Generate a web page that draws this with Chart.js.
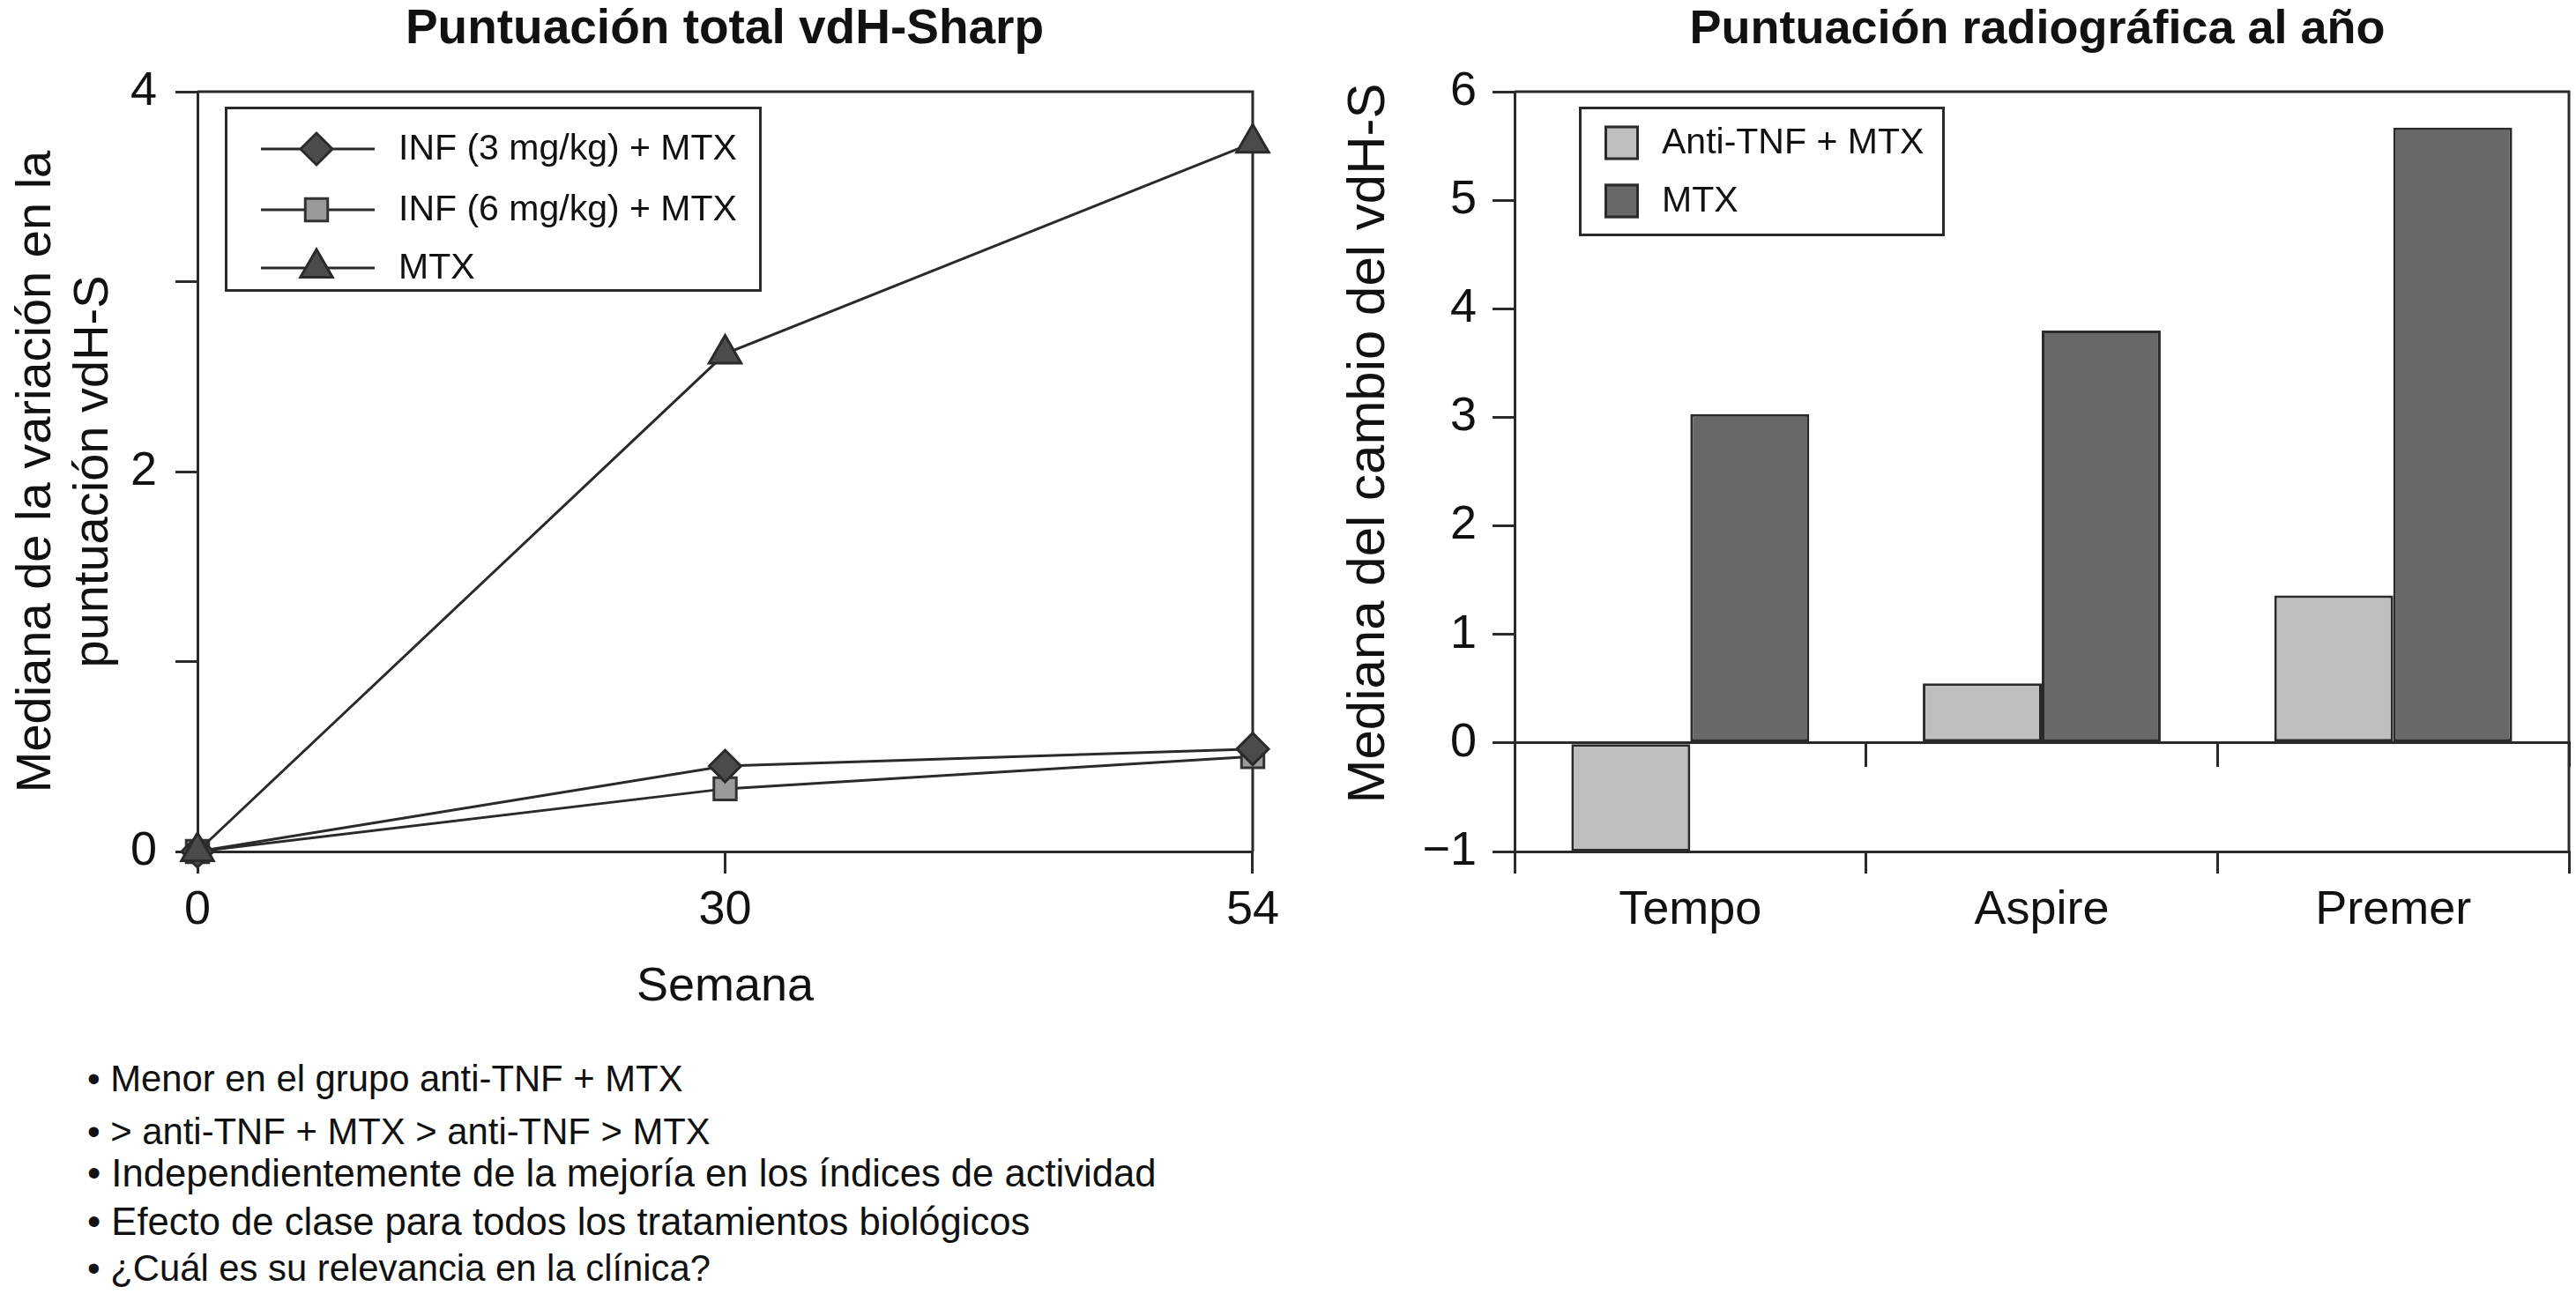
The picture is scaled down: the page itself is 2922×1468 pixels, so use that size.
<!DOCTYPE html>
<html><head><meta charset="utf-8">
<script src="https://cdn.jsdelivr.net/npm/chart.js@4.4.0/dist/chart.umd.min.js"></script>
<style>
html,body{margin:0;padding:0;background:#fff;}
body{width:2922px;height:1468px;position:relative;overflow:hidden;font-family:"Liberation Sans",Arial,sans-serif;color:#111;}
.t{position:absolute;font-weight:bold;line-height:54px;text-align:center;white-space:nowrap;top:3px;}
.b{position:absolute;left:99px;line-height:41px;white-space:nowrap;}
canvas{position:absolute;left:0;top:0;}
.w{position:absolute;top:0;width:1461px;height:1180px;}
</style></head><body>
<div class="t" id="t1" style="left:0;width:1644px;font-size:55px;"></div>
<div class="t" id="t2" style="left:1700px;width:1222px;font-size:54px;"></div>
<div class="w" style="left:0;"><canvas id="c1" width="1461" height="1180"></canvas></div>
<div class="w" style="left:1461px;"><canvas id="c2" width="1461" height="1180"></canvas></div>
<div id="bul"></div>
<script>
// ---------- DATA ----------
const leftTitle = 'Puntuación total vdH-Sharp';
const rightTitle = 'Puntuación radiográfica al año';
const weeks = ['0', '30', '54'];
const inf3Mtx = [0, 0.45, 0.54];
const inf6Mtx = [0, 0.33, 0.50];
const mtxLine = [0, 2.62, 3.73];
const lineLabels = ['INF (3 mg/kg) + MTX', 'INF (6 mg/kg) + MTX', 'MTX'];
const leftYTickValues = [0, 1, 2, 3, 4];
const leftYLabeled = [0, 2, 4];
const leftYTitle = ['Mediana de la variación en la', 'puntuación vdH-S'];
const leftXTitle = 'Semana';

const studies = ['Tempo', 'Aspire', 'Premer'];
const antiTnfMtx = [-1.0, 0.55, 1.36];
const mtxBar = [3.03, 3.80, 5.67];
const barLabels = ['Anti-TNF + MTX', 'MTX'];
const rightYTitle = 'Mediana del cambio del vdH-S';

const bullets = [
  'Menor en el grupo anti-TNF + MTX',
  '> anti-TNF + MTX > anti-TNF > MTX',
  'Independientemente de la mejoría en los índices de actividad',
  'Efecto de clase para todos los tratamientos biológicos',
  '¿Cuál es su relevancia en la clínica?'
];

// ---------- LAYOUT / STYLE ----------
const bulletTops = [1203, 1263, 1311, 1366, 1418];
const bulletSizes = [41.8, 41.8, 43.6, 43.6, 41.8];

document.getElementById('t1').textContent = leftTitle;
document.getElementById('t2').textContent = rightTitle;
const bul = document.getElementById('bul');
bullets.forEach((s, i) => {
  const d = document.createElement('div');
  d.className = 'b';
  d.style.top = bulletTops[i] + 'px';
  d.style.fontSize = bulletSizes[i] + 'px';
  d.textContent = '\u2022 ' + s;
  bul.appendChild(d);
});

const INK = '#2a2a2a';
const FONT = '"Liberation Sans", Arial, Helvetica, sans-serif';
Chart.defaults.font.family = FONT;
Chart.defaults.color = '#111';

function drawMarker(ctx, style, x, y, r, fill, stroke) {
  ctx.save();
  ctx.fillStyle = fill; ctx.strokeStyle = stroke; ctx.lineWidth = 3;
  if (Chart.helpers && Chart.helpers.drawPoint) {
    Chart.helpers.drawPoint(ctx, {pointStyle: style, radius: r, rotation: 0, borderWidth: 3}, x, y);
  } else {
    ctx.beginPath();
    if (style === 'rectRot') { ctx.moveTo(x, y - r); ctx.lineTo(x + r, y); ctx.lineTo(x, y + r); ctx.lineTo(x - r, y); ctx.closePath(); }
    else if (style === 'rect') { const s = r * Math.SQRT1_2; ctx.rect(x - s, y - s, 2 * s, 2 * s); }
    else { ctx.moveTo(x, y - r); ctx.lineTo(x + r * 0.866, y + r / 2); ctx.lineTo(x - r * 0.866, y + r / 2); ctx.closePath(); }
    ctx.fill(); ctx.stroke();
  }
  ctx.restore();
}

const framePlugin = {
  id: 'frame',
  beforeDatasetsDraw(chart) {
    const {ctx, chartArea: a} = chart;
    ctx.save();
    ctx.strokeStyle = INK; ctx.lineWidth = 3;
    ctx.beginPath();
    ctx.moveTo(a.left, a.top); ctx.lineTo(a.right, a.top); ctx.lineTo(a.right, a.bottom);
    ctx.stroke();
    ctx.restore();
  }
};

const lineLegend = {
  id: 'lineLegend',
  afterDraw(chart) {
    const ctx = chart.ctx;
    ctx.save();
    ctx.strokeStyle = INK; ctx.lineWidth = 3;
    ctx.strokeRect(256.5, 122.5, 606, 207);
    const rows = [169, 238, 304];
    ctx.font = '41px ' + FONT;
    ctx.textBaseline = 'middle';
    ctx.textAlign = 'left';
    chart.data.datasets.forEach((ds, i) => {
      const y = rows[i];
      ctx.strokeStyle = INK; ctx.lineWidth = 3;
      ctx.beginPath(); ctx.moveTo(296, y); ctx.lineTo(425, y); ctx.stroke();
      drawMarker(ctx, ds.pointStyle, 359, y, ds.pointRadius, ds.pointBackgroundColor, ds.pointBorderColor);
      ctx.fillStyle = '#111';
      ctx.fillText(ds.label, 452, y + 1);
    });
    ctx.restore();
  }
};

const barLegend = {
  id: 'barLegend',
  afterDraw(chart) {
    const ctx = chart.ctx;
    ctx.save();
    ctx.strokeStyle = INK; ctx.lineWidth = 3;
    ctx.strokeRect(331.5, 122.5, 412, 144);
    const rows = [162, 228];
    ctx.font = '41px ' + FONT;
    ctx.textBaseline = 'middle';
    chart.data.datasets.forEach((ds, i) => {
      const y = rows[i];
      ctx.fillStyle = ds.backgroundColor;
      ctx.fillRect(359, y - 19.5, 39, 39);
      ctx.strokeStyle = INK;
      ctx.strokeRect(360.5, y - 18, 36, 36);
      ctx.fillStyle = '#111';
      ctx.fillText(ds.label, 424, y + 1);
    });
    // rotated y-axis title (offset upward as in the reference)
    ctx.translate(92, 503);
    ctx.rotate(-Math.PI / 2);
    ctx.font = '60px ' + FONT;
    ctx.textAlign = 'center';
    ctx.fillStyle = '#111';
    ctx.fillText(rightYTitle, 0, 0);
    ctx.restore();
  }
};

// ---------- LEFT CHART ----------
new Chart(document.getElementById('c1'), {
  type: 'line',
  data: {
    labels: weeks,
    datasets: [
      {label: lineLabels[0], data: inf3Mtx, pointStyle: 'rectRot', pointRadius: 18,
       pointBackgroundColor: '#4b4b4b', pointBorderColor: INK, order: 1},
      {label: lineLabels[1], data: inf6Mtx, pointStyle: 'rect', pointRadius: 18,
       pointBackgroundColor: '#9a9a9a', pointBorderColor: '#333', order: 2},
      {label: lineLabels[2], data: mtxLine, pointStyle: 'triangle', pointRadius: 21,
       pointBackgroundColor: '#4b4b4b', pointBorderColor: INK, order: 0}
    ].map(d => Object.assign({borderColor: INK, borderWidth: 3, tension: 0, pointBorderWidth: 3, clip: false, fill: false}, d))
  },
  options: {
    responsive: false, animation: false, events: [],
    layout: {padding: {top: 104, right: 40, left: 0, bottom: 0}},
    plugins: {legend: {display: false}, tooltip: {enabled: false}},
    scales: {
      x: {
        type: 'category', offset: false,
        grid: {offset: false, drawOnChartArea: false, drawTicks: true, tickLength: 25, color: INK, lineWidth: 3},
        border: {display: true, color: INK, width: 3},
        ticks: {font: {size: 54}, padding: 10, color: '#111', maxRotation: 0, autoSkip: false},
        title: {display: true, text: leftXTitle, font: {size: 54}, color: '#111', padding: {top: 0, bottom: 27}},
        afterFit(s) { s.height = 214; }
      },
      y: {
        min: 0, max: 4,
        afterBuildTicks(s) { s.ticks = leftYTickValues.map(v => ({value: v})); },
        grid: {drawOnChartArea: false, drawTicks: true, tickLength: 25, color: INK, lineWidth: 3},
        border: {display: true, color: INK, width: 3},
        ticks: {font: {size: 54}, padding: 21, color: '#111',
                callback: v => leftYLabeled.includes(v) ? String(v) : ''},
        title: {display: true, text: leftYTitle, font: {size: 56, lineHeight: 1.16}, color: '#111', padding: {top: 9, bottom: 0}},
        afterFit(s) { s.width = 224; }
      }
    }
  },
  plugins: [framePlugin, lineLegend]
});

// ---------- RIGHT CHART ----------
new Chart(document.getElementById('c2'), {
  type: 'bar',
  data: {
    labels: studies,
    datasets: [
      {label: barLabels[0], data: antiTnfMtx, backgroundColor: '#bebebe'},
      {label: barLabels[1], data: mtxBar, backgroundColor: '#686868'}
    ].map(d => Object.assign({borderColor: INK, borderWidth: 3, borderSkipped: false,
                              categoryPercentage: 0.677, barPercentage: 1.0}, d))
  },
  options: {
    responsive: false, animation: false, events: [],
    layout: {padding: {top: 104, right: 8, left: 0, bottom: 0}},
    plugins: {legend: {display: false}, tooltip: {enabled: false}},
    scales: {
      x: {
        type: 'category', offset: true,
        grid: {offset: true, drawOnChartArea: false, drawTicks: true, tickLength: 25, color: INK, lineWidth: 3},
        border: {display: true, color: INK, width: 3},
        ticks: {font: {size: 54}, padding: 10, color: '#111', maxRotation: 0},
        afterFit(s) { s.height = 214; }
      },
      x2: {
        type: 'category', offset: true, position: {y: 0},
        grid: {offset: true, drawOnChartArea: false, drawTicks: true, tickLength: 26, color: INK, lineWidth: 3},
        border: {display: true, color: INK, width: 3},
        ticks: {display: false}
      },
      y: {
        min: -1, max: 6,
        ticks: {stepSize: 1, font: {size: 54}, padding: 18, color: '#111',
                callback: v => v < 0 ? '\u2212' + Math.abs(v) : String(v)},
        grid: {drawOnChartArea: false, drawTicks: true, tickLength: 25, color: INK, lineWidth: 3},
        border: {display: true, color: INK, width: 3},
        afterFit(s) { s.width = 257; }
      }
    }
  },
  plugins: [framePlugin, barLegend]
});
</script>
</body></html>
